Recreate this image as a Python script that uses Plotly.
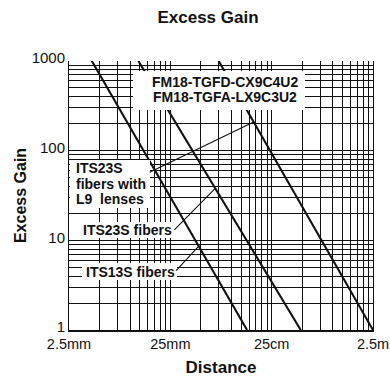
import numpy as np
import plotly.graph_objects as go

# ---- data ----
DIST_ITS13S = [4.2, 143.0]        # mm
GAIN_ITS13S = [1000, 1]
DIST_ITS23S = [12.1, 484.0]       # mm
GAIN_ITS23S = [1000, 1]
DIST_ITS23S_L9 = [75.0, 2500.0]   # mm
GAIN_ITS23S_L9 = [1000, 1]

X_TICK_VALUES = [2.5, 25, 250, 2500]
X_TICK_LABELS = ["2.5mm", "25mm", "25cm", "2.5m"]
Y_TICK_VALUES = [1, 10, 100, 1000]
Y_TICK_LABELS = ["1", "10", "100", "1000"]

SENSOR_LINES = ["FM18-TGFD-CX9C4U2", "FM18-TGFA-LX9C3U2"]
L9_LINES = ["ITS23S", "fibers with", "L9\u00a0 lenses"]
ITS23S_LABEL = "ITS23S fibers"
ITS13S_LABEL = "ITS13S fibers"
# gain values where the leader lines touch the curves
LEADER_GAINS = {"L9": 209, "ITS23S": 38, "ITS13S": 8.6}

FONT = "Liberation Sans, Arial, Helvetica, sans-serif"

# ---- layout geometry (pixels, in the 390x381 window) ----
W, H = 390, 381
PL, PT, PR, PB = 69, 61, 373, 330   # plot box
PW, PH = PR - PL, PB - PT

def pxp(x):
    return (x - PL) / PW

def pyp(y):
    return (PB - y) / PH

# grid ticks: 1..9 multiples of each decade, labels only at decades
def grid_ticks(vals, labels):
    tv, tt = [], []
    for i, v in enumerate(vals[:-1]):
        for k in range(1, 10):
            tv.append(v * k)
            tt.append(labels[i] if k == 1 else "")
    tv.append(vals[-1])
    tt.append(labels[-1])
    return tv, tt

xtv, xtt = grid_ticks(X_TICK_VALUES, X_TICK_LABELS)
ytv, ytt = grid_ticks(Y_TICK_VALUES, Y_TICK_LABELS)

fig = go.Figure()
for d, g in [(DIST_ITS13S, GAIN_ITS13S), (DIST_ITS23S, GAIN_ITS23S), (DIST_ITS23S_L9, GAIN_ITS23S_L9)]:
    fig.add_trace(go.Scatter(x=d, y=g, mode="lines",
                             line=dict(color="#111", width=2.1), showlegend=False,
                             hoverinfo="skip"))

# white label boxes
boxes = [(133, 71, 305, 110), (70, 160, 150, 208), (80, 222, 173, 238), (82, 263, 177, 280)]
for x0, y0, x1, y1 in boxes:
    fig.add_shape(type="rect", xref="paper", yref="paper",
                  x0=pxp(x0), x1=pxp(x1), y0=pyp(y1), y1=pyp(y0),
                  fillcolor="white", line=dict(width=0), layer="above")

ann = []
lab_font = dict(family=FONT, size=14, color="#111", weight="bold")
for txt, yy in zip(SENSOR_LINES, [81.7, 96.7]):
    ann.append(dict(text=txt, x=pxp(224.5), y=pyp(yy), xref="paper", yref="paper",
                    xanchor="center", yanchor="middle", showarrow=False, font=lab_font))
for txt, yy in zip(L9_LINES, [168.3, 184.3, 199.3]):
    ann.append(dict(text=txt, x=pxp(74), y=pyp(yy), xref="paper", yref="paper",
                    xanchor="left", yanchor="middle", showarrow=False, font=lab_font))
ann.append(dict(text=ITS23S_LABEL, x=pxp(127.5), y=pyp(229.5), xref="paper", yref="paper",
                xanchor="center", yanchor="middle", showarrow=False, font=lab_font))
ann.append(dict(text=ITS13S_LABEL, x=pxp(130), y=pyp(271.7), xref="paper", yref="paper",
                xanchor="center", yanchor="middle", showarrow=False, font=lab_font))

def on_curve(dist, gain, g):
    lg = np.log10(gain)[::-1]
    ld = np.log10(dist)[::-1]
    return float(np.interp(np.log10(g), lg, ld))

leaders = [
    (DIST_ITS23S_L9, GAIN_ITS23S_L9, LEADER_GAINS["L9"], -105.5, 51),
    (DIST_ITS23S, GAIN_ITS23S, LEADER_GAINS["ITS23S"], -42.4, 43),
    (DIST_ITS13S, GAIN_ITS13S, LEADER_GAINS["ITS13S"], -24, 26),
]
for d, g, lg, ax, ay in leaders:
    ann.append(dict(text="", x=on_curve(d, g, lg), y=float(np.log10(lg)), xref="x", yref="y",
                    showarrow=True, arrowhead=0, arrowwidth=1.1, arrowcolor="#111",
                    ax=ax, ay=ay, standoff=0, startstandoff=0))

fig.update_layout(
    width=W, height=H,
    margin=dict(l=PL, r=W - PR, t=PT, b=H - PB),
    paper_bgcolor="white", plot_bgcolor="white",
    title=dict(text="Excess Gain", x=208 / W, y=1 - 17 / H,
               xref="container", yref="container",
               xanchor="center", yanchor="middle",
               font=dict(family=FONT, size=17, color="#111", weight="bold")),
    annotations=ann,
    font=dict(family=FONT, color="#111"),
)
fig.update_xaxes(type="log", range=[np.log10(X_TICK_VALUES[0]), np.log10(X_TICK_VALUES[-1])],
                 tickmode="array", tickvals=xtv, ticktext=xtt, ticks="",
                 tickfont=dict(family=FONT, size=14.5, color="#111"),
                 showgrid=True, gridcolor="#111", gridwidth=1,
                 showline=True, linecolor="#111", linewidth=2,
                 title=dict(text="Distance", standoff=10,
                            font=dict(family=FONT, size=17, color="#111", weight="bold")),
                 automargin=False, fixedrange=True)
fig.update_yaxes(type="log", range=[0, 3],
                 tickmode="array", tickvals=ytv, ticktext=ytt, ticks="",
                 tickfont=dict(family=FONT, size=15, color="#111"),
                 ticklabelshift=-3,
                 showgrid=True, gridcolor="#111", gridwidth=1,
                 showline=True, linecolor="#111", linewidth=1, mirror=True,
                 title=dict(text="Excess Gain", standoff=1,
                            font=dict(family=FONT, size=16, color="#111", weight="bold")),
                 automargin=False, fixedrange=True)

fig.write_html("out.html",
               config={"displayModeBar": False, "staticPlot": True},
               post_script="document.body.style.margin='0';document.body.style.overflow='hidden';")
